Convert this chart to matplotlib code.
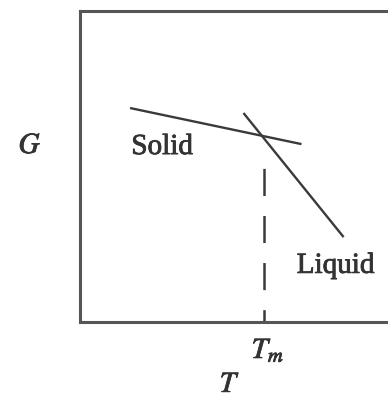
"""Free energy vs temperature for solid and liquid phases, crossing at Tm."""

import matplotlib

matplotlib.use("Agg")
import matplotlib.pyplot as plt
import matplotlib.patheffects as pe

plt.rcParams["font.family"] = ["Liberation Serif", "DejaVu Serif"]
plt.rcParams["mathtext.fontset"] = "stix"
plt.rcParams["lines.scale_dashes"] = False

# schematic G(T) segments, arbitrary units
solid_T = [1.58, 6.99]
solid_G = [6.88, 5.72]
liquid_T = [5.16, 8.32]
liquid_G = [6.72, 2.73]
melt_T = 5.82
melt_G = 5.95

LINE_COLOR = "#3a3a3a"
FRAME_COLOR = "#555555"
TEXT_COLOR = "#333333"
FONT_SIZE = 21
# slight stroke so the serif labels read as heavy as the scanned figure
heavy = [pe.withStroke(linewidth=0.6, foreground=TEXT_COLOR)]

W, H = 388, 399
fig = plt.figure(figsize=(W / 100, H / 100), dpi=100)
ax = fig.add_axes([80 / W, 77 / H, (400 - 80) / W, (322 - 11) / H])
ax.set_xlim(0, 10.1)
ax.set_ylim(0, 10)

ax.plot(solid_T, solid_G, color=LINE_COLOR, lw=1.7, solid_capstyle="butt")
ax.plot(liquid_T, liquid_G, color=LINE_COLOR, lw=1.7, solid_capstyle="butt")
# dashed drop from the crossing point to the T axis, leaving a gap under the crossing
ax.plot([melt_T, melt_T], [0, melt_G - 0.6], color=LINE_COLOR, lw=1.8,
        linestyle=(10.6, (19.5, 14.4)), clip_on=False)

ax.text(1.62, 5.4, "Solid", fontsize=FONT_SIZE, color=TEXT_COLOR, ha="left", va="baseline",
        path_effects=heavy)
ax.text(6.84, 1.58, "Liquid", fontsize=FONT_SIZE, color=TEXT_COLOR, ha="left", va="baseline",
        path_effects=heavy)

ax.text(melt_T - 0.4, -0.116, r"$T_m$", transform=ax.get_xaxis_transform(),
        fontsize=FONT_SIZE, color=TEXT_COLOR, ha="left", va="baseline", path_effects=heavy)
fig.text(30 / W, 1 - 146 / H, r"$G$", fontsize=FONT_SIZE, color=TEXT_COLOR, ha="center", va="center",
         path_effects=heavy)
fig.text(230 / W, 1 / H, r"$T$", fontsize=FONT_SIZE, color=TEXT_COLOR, ha="center", va="bottom",
         path_effects=heavy)

ax.set_xticks([])
ax.set_yticks([])
for side in ("left", "top", "bottom", "right"):
    ax.spines[side].set_color(FRAME_COLOR)
    ax.spines[side].set_linewidth(2.2)

fig.savefig("out.png", dpi=100)
